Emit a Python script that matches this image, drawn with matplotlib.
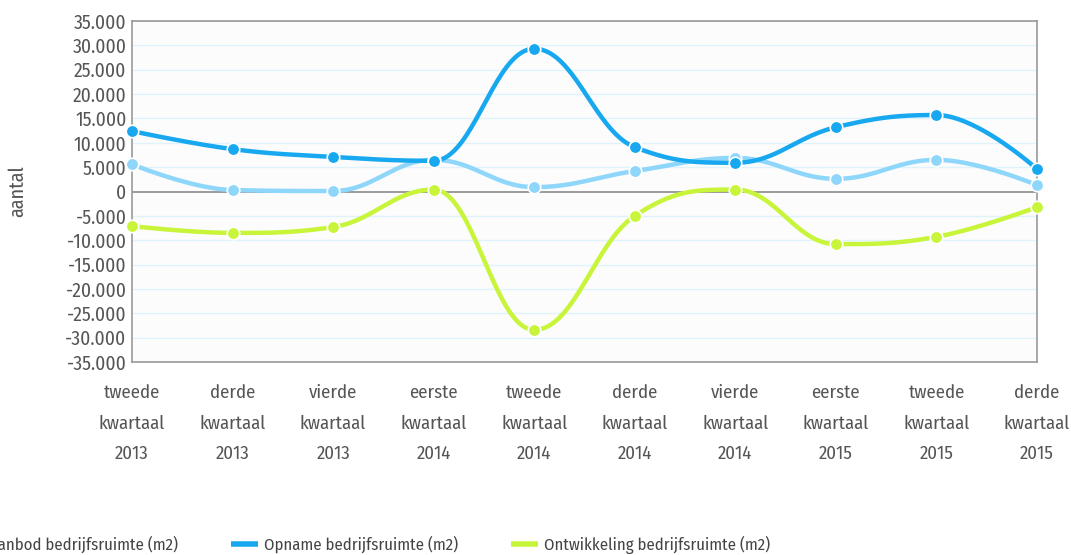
import numpy as np
import matplotlib
matplotlib.use('Agg')
import matplotlib.pyplot as plt
from matplotlib.lines import Line2D
from matplotlib.ticker import FuncFormatter

plt.rcParams['font.family'] = ['Fira Sans Condensed', 'DejaVu Sans']

# =============================================================================
# Data
# =============================================================================
quarters = ['tweede\nkwartaal\n2013', 'derde\nkwartaal\n2013', 'vierde\nkwartaal\n2013',
            'eerste\nkwartaal\n2014', 'tweede\nkwartaal\n2014', 'derde\nkwartaal\n2014',
            'vierde\nkwartaal\n2014', 'eerste\nkwartaal\n2015', 'tweede\nkwartaal\n2015',
            'derde\nkwartaal\n2015']
aanbod = [5600, 300, 100, 6500, 900, 4200, 6900, 2600, 6500, 1300]
opname = [12400, 8700, 7100, 6300, 29300, 9100, 5900, 13200, 15700, 4600]
ontwikkeling = [-7100, -8500, -7300, 400, -28400, -5000, 400, -10800, -9300, -3200]

series = [
    ('Aanbod bedrijfsruimte (m2)', aanbod, '#8fd6fb'),
    ('Opname bedrijfsruimte (m2)', opname, '#18a8f0'),
    ('Ontwikkeling bedrijfsruimte (m2)', ontwikkeling, '#c8f53a'),
]


def spline_path(xs, ys, n=40):
    """Highcharts-like smoothed bezier through the points."""
    xs = np.asarray(xs, float)
    ys = np.asarray(ys, float)
    sm = 1.5
    den = sm + 1
    rc = [(xs[0], ys[0])]
    lc = [(xs[0], ys[0])]
    for i in range(1, len(xs) - 1):
        x, y = xs[i], ys[i]
        lx, ly = xs[i - 1], ys[i - 1]
        nx, ny = xs[i + 1], ys[i + 1]
        lcx = (sm * x + lx) / den
        lcy = (sm * y + ly) / den
        rcx = (sm * x + nx) / den
        rcy = (sm * y + ny) / den
        corr = 0.0
        if rcx != lcx:
            corr = (rcy - lcy) * (rcx - x) / (rcx - lcx) + y - rcy
        lcy += corr
        rcy += corr
        if lcy > ly and lcy > y:
            lcy = max(ly, y)
            rcy = 2 * y - lcy
        elif lcy < ly and lcy < y:
            lcy = min(ly, y)
            rcy = 2 * y - lcy
        if rcy > ny and rcy > y:
            rcy = max(ny, y)
            lcy = 2 * y - rcy
        elif rcy < ny and rcy < y:
            rcy = min(ny, y)
            lcy = 2 * y - rcy
        lc.append((lcx, lcy))
        rc.append((rcx, rcy))
    lc.append((xs[-1], ys[-1]))
    t = np.linspace(0, 1, n)[:, None]
    out = []
    for i in range(1, len(xs)):
        p0 = np.array([xs[i - 1], ys[i - 1]])
        p1 = np.array(rc[i - 1])
        p2 = np.array(lc[i])
        p3 = np.array([xs[i], ys[i]])
        seg = ((1 - t) ** 3) * p0 + 3 * ((1 - t) ** 2) * t * p1 \
            + 3 * (1 - t) * t ** 2 * p2 + t ** 3 * p3
        out.append(seg if i == 1 else seg[1:])
    out = np.vstack(out)
    return out[:, 0], out[:, 1]


fig = plt.figure(figsize=(10.71, 5.55), dpi=100)
ax = fig.add_axes([0.1232, 0.3477, 0.8451, 0.6145])
ax.set_facecolor('#fcfcfc')

x = np.arange(len(quarters))
for yv in range(-35000, 35001, 5000):
    if yv != 0:
        ax.axhline(yv, color='#dff3fc', lw=1, zorder=0)
ax.axhline(0, color='#8a8a8a', lw=1.2, zorder=1)

for label, vals, col in series:
    sx, sy = spline_path(x, vals)
    ax.plot(sx, sy, color=col, lw=3.2, solid_capstyle='round', zorder=2,
            clip_on=False)
    ax.plot(x, vals, 'o', color=col, ms=9, mec='white', mew=1.2, zorder=3,
            clip_on=False)

ax.set_xlim(0, len(quarters) - 1)
ax.set_ylim(-35000, 35000)
ax.set_yticks(range(-35000, 35001, 5000))
ax.yaxis.set_major_formatter(FuncFormatter(
    lambda v, p: f'{int(v):,}'.replace(',', '.')))
ax.set_xticks(x)
ax.set_xticklabels(quarters, linespacing=1.9)
ax.tick_params(axis='y', length=0, pad=4, labelsize=14, labelcolor='#555555')
ax.tick_params(axis='x', length=0, pad=16, labelsize=13.5, labelcolor='#555555')
for s in ax.spines.values():
    s.set_color('#999999')
    s.set_linewidth(1.2)
ax.set_ylabel('aantal', fontsize=14.5, color='#555555')
ax.yaxis.set_label_coords(-0.116, 0.5)

handles = [Line2D([], [], color=col, lw=4, solid_capstyle='butt')
           for _, _, col in series]
labels = [s[0] for s in series]
fig.legend(handles, labels, loc='center right', bbox_to_anchor=(0.733, 0.018),
           ncol=3, frameon=False, fontsize=12, handlelength=1.6,
           handletextpad=0.35, columnspacing=3.2, labelcolor='#444444')

fig.savefig('out.png', dpi=100)
